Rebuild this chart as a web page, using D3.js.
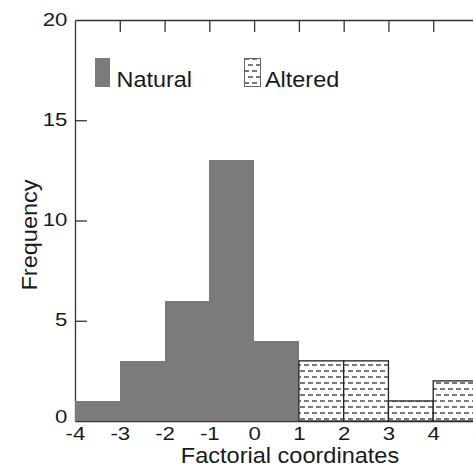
<!DOCTYPE html>
<html>
<head>
<meta charset="utf-8">
<script src="https://cdn.jsdelivr.net/npm/d3@7"></script>
<style>
  body { margin: 0; background: #fff; }
  text { font-family: "Liberation Sans", Arial, sans-serif; fill: #1a1a1a; }
</style>
</head>
<body>
<div id="chart"></div>
<script>
// histogram bins: [start, end] and counts
const naturalBins = [[-4, -3], [-3, -2], [-2, -1], [-1, 0], [0, 1]];
const naturalCounts = [1, 3, 6, 13, 4];
const alteredBins = [[1, 2], [2, 3], [3, 4], [4, 5]];
const alteredCounts = [3, 3, 1, 2];
const xTicks = [-4, -3, -2, -1, 0, 1, 2, 3, 4, 5];
const yTicks = [0, 5, 10, 15, 20];
const legendLabels = ["Natural", "Altered"];

const W = 473, H = 468;
const margin = { top: 20, right: -5, bottom: 47, left: 75 };
const width = W - margin.left - margin.right;
const height = H - margin.top - margin.bottom;

const x = d3.scaleLinear().domain([-4, 5]).range([0, width]);
const y = d3.scaleLinear().domain([0, 20]).range([height, 0]);

const svg = d3.select("#chart").append("svg")
    .attr("width", W)
    .attr("height", H);

// dashed fill for the altered bars
const defs = svg.append("defs");
const pat = defs.append("pattern")
    .attr("id", "dashes")
    .attr("patternUnits", "userSpaceOnUse")
    .attr("width", 8)
    .attr("height", 12);
pat.append("rect").attr("width", 8).attr("height", 12).attr("fill", "#fff");
pat.append("line").attr("x1", 1).attr("x2", 6).attr("y1", 3).attr("y2", 3);
pat.append("line").attr("x1", -3).attr("x2", 2).attr("y1", 9).attr("y2", 9);
pat.append("line").attr("x1", 5).attr("x2", 10).attr("y1", 9).attr("y2", 9);
pat.selectAll("line").attr("stroke", "#555").attr("stroke-width", 1.6);

// text in the source is a bit wider than Arial, so stretch it horizontally
function label(parent, tx, ty, str, size, sx, anchor, rot) {
    return parent.append("g")
        .attr("transform", `translate(${tx},${ty})` + (rot ? ` rotate(${rot})` : "") + ` scale(${sx},1)`)
        .append("text")
        .attr("text-anchor", anchor || "start")
        .attr("font-size", size)
        .text(str);
}

const g = svg.append("g")
    .attr("transform", `translate(${margin.left},${margin.top})`);

// axes
g.append("g")
    .attr("class", "x-axis")
    .attr("transform", `translate(0,${height})`)
    .call(d3.axisBottom(x).tickValues(xTicks).tickSize(0).tickPadding(6).tickFormat(d => String(d)))
    .call(a => a.selectAll("text")
        .attr("font-size", 19)
        .attr("fill", "#1a1a1a")
        .attr("transform", "scale(1.17,1)"));

g.append("g")
    .attr("class", "x-top")
    .call(d3.axisTop(x).tickValues(xTicks.slice(1, -1)).tickSizeInner(-12).tickSizeOuter(0).tickFormat(""));

g.append("g")
    .attr("class", "y-axis")
    .call(d3.axisLeft(y).tickValues(yTicks).tickSizeInner(-12).tickSizeOuter(0).tickFormat(d => String(d)))
    .call(a => a.selectAll(".tick line").attr("display", d => (d === 0 || d === 20) ? "none" : null))
    .call(a => a.selectAll("text")
        .attr("font-size", 19)
        .attr("fill", "#1a1a1a")
        .attr("x", -6.5)
        .attr("dy", "0.27em")
        .attr("y", d => d === 0 ? -4 : 0)
        .attr("transform", "scale(1.17,1)"));

svg.selectAll(".domain, .tick line").attr("stroke", "#333").attr("stroke-width", 1.3);

// bars
g.selectAll(".nat")
    .data(naturalBins.map((b, i) => ({ b, v: naturalCounts[i] })))
    .enter().append("rect")
    .attr("class", "nat")
    .attr("x", d => x(d.b[0]))
    .attr("y", d => y(d.v))
    .attr("width", d => x(d.b[1]) - x(d.b[0]))
    .attr("height", d => height - y(d.v))
    .attr("fill", "#7b7b7b")
    .attr("shape-rendering", "crispEdges");

g.selectAll(".alt")
    .data(alteredBins.map((b, i) => ({ b, v: alteredCounts[i] })))
    .enter().append("rect")
    .attr("class", "alt")
    .attr("x", d => x(d.b[0]))
    .attr("y", d => y(d.v))
    .attr("width", d => x(d.b[1]) - x(d.b[0]))
    .attr("height", d => height - y(d.v))
    .attr("fill", "url(#dashes)")
    .attr("stroke", "#222")
    .attr("stroke-width", 1.3);

// legend
g.append("rect")
    .attr("x", 20).attr("y", 38).attr("width", 15).attr("height", 29)
    .attr("fill", "#7b7b7b");
label(g, 41.5, 66.8, legendLabels[0], 21.5, 1.09);

g.append("rect")
    .attr("x", 169.5).attr("y", 38.5).attr("width", 16).attr("height", 28)
    .attr("fill", "url(#dashes)")
    .attr("stroke", "#666").attr("stroke-width", 1);
label(g, 190, 66.8, legendLabels[1], 21.5, 1.09);

// axis titles
label(svg, 290, 463.3, "Factorial coordinates", 21.4, 1.1, "middle");
label(svg, 36.5, 235, "Frequency", 21.4, 1.1, "middle", -90);
</script>
</body>
</html>
